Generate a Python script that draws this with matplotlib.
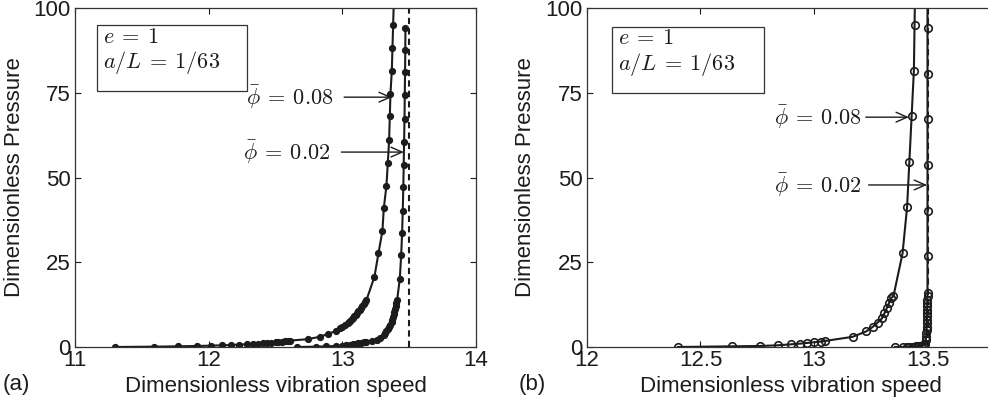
import matplotlib
matplotlib.use('Agg')
import matplotlib.pyplot as plt
from matplotlib.patches import Rectangle

plt.rcParams['font.family'] = ['Liberation Sans', 'DejaVu Sans']
plt.rcParams['mathtext.fontset'] = 'cm'

# (a) filled markers
a08_x = [11.30, 11.59, 11.77, 11.91, 12.02, 12.10, 12.17, 12.23, 12.29, 12.33, 12.37, 12.41,
         12.44, 12.47, 12.50, 12.52, 12.55, 12.57, 12.59, 12.61, 12.74, 12.83, 12.89, 12.95,
         12.98, 13.00, 13.02, 13.04, 13.05, 13.06, 13.07, 13.08, 13.09, 13.10, 13.11, 13.12,
         13.13, 13.14, 13.15, 13.16, 13.17, 13.18, 13.24, 13.27, 13.30, 13.31, 13.33, 13.34,
         13.35, 13.355, 13.36, 13.37, 13.375, 13.38, 13.385]
a08_p = [0.0, 0.1, 0.2, 0.3, 0.4, 0.5, 0.6, 0.7, 0.8, 0.9, 1.0, 1.1,
         1.2, 1.3, 1.4, 1.5, 1.6, 1.7, 1.8, 1.9, 2.3, 3.0, 3.8, 4.7,
         5.5, 6.0, 6.5, 7.0, 7.4, 7.8, 8.2, 8.6, 9.0, 9.5, 10.0, 10.5,
         11.0, 11.5, 12.0, 12.6, 13.2, 13.8, 20.7, 27.6, 34.3, 40.9, 47.6, 54.2,
         61.1, 68.0, 74.7, 81.5, 88.2, 95.1, 101.9]

a02_x = [12.66, 12.80, 12.88, 12.95, 13.00, 13.03, 13.06, 13.08, 13.10, 13.12, 13.14, 13.16,
         13.18, 13.22, 13.26, 13.28, 13.31, 13.32, 13.33, 13.34, 13.35, 13.36, 13.37, 13.375,
         13.38, 13.385, 13.39, 13.395, 13.40, 13.405, 13.41, 13.43, 13.44, 13.447, 13.452,
         13.456, 13.459, 13.462, 13.465, 13.467, 13.469, 13.471, 13.472]
a02_p = [0.0, 0.1, 0.2, 0.3, 0.4, 0.6, 0.7, 0.8, 0.9, 1.1, 1.2, 1.4,
         1.6, 1.8, 2.1, 2.6, 3.5, 4.0, 4.6, 5.2, 5.9, 6.6, 7.4, 8.1,
         8.8, 9.6, 10.4, 11.2, 12.0, 12.9, 13.9, 20.2, 27.1, 33.5, 40.2,
         47.1, 53.7, 60.6, 67.4, 74.2, 81.0, 87.7, 94.1]

# (b) open markers
b08_x = [12.40, 12.64, 12.76, 12.84, 12.90, 12.94, 12.97, 13.00, 13.03, 13.05, 13.17, 13.23,
         13.26, 13.28, 13.30, 13.31, 13.32, 13.33, 13.34, 13.35, 13.39, 13.41, 13.42, 13.43,
         13.44, 13.443, 13.446]
b08_p = [0.0, 0.2, 0.3, 0.5, 0.8, 1.0, 1.2, 1.4, 1.6, 1.8, 3.0, 4.6,
         6.0, 7.2, 8.5, 9.9, 11.4, 12.9, 14.4, 15.0, 27.6, 41.2, 54.5, 68.0,
         81.5, 95.1, 108.0]

b02_x = [13.357, 13.39, 13.41, 13.42, 13.43, 13.44, 13.45, 13.46, 13.47, 13.48, 13.49, 13.492,
         13.494, 13.495, 13.496, 13.496, 13.497, 13.497, 13.498, 13.498, 13.498, 13.499, 13.499,
         13.499, 13.5, 13.5, 13.5, 13.5, 13.5, 13.5, 13.5, 13.5, 13.5]
b02_p = [0.0, 0.0, 0.0, 0.0, 0.05, 0.1, 0.15, 0.2, 0.3, 0.5, 1.0, 2.0,
         3.0, 4.0, 5.0, 6.0, 7.0, 8.0, 9.0, 10.0, 11.0, 12.0, 13.0,
         14.0, 15.0, 16.0, 26.8, 40.2, 53.7, 67.2, 80.6, 94.1, 107.5]

ink = '#1c1c1c'
fs = 16

fig = plt.figure(figsize=(9.88, 4.05), dpi=100)
ax1 = fig.add_axes([0.0759, 0.1432, 0.4059, 0.837])
ax2 = fig.add_axes([0.5941, 0.1432, 0.4136, 0.837])

ax1.plot(a08_x, a08_p, '-o', color=ink, lw=1.5, ms=4.2, mfc=ink, mec=ink)
ax1.plot(a02_x, a02_p, '-o', color=ink, lw=1.5, ms=4.2, mfc=ink, mec=ink)
ax1.axvline(13.5, color=ink, lw=1.5, ls=(0, (3, 2)))

ax2.axvline(13.5, color=ink, lw=1.5, ls=(0, (3, 2)))
ax2.plot(b08_x, b08_p, '-o', color=ink, lw=1.5, ms=5.4, mfc='none', mec=ink, mew=1.2)
ax2.plot(b02_x, b02_p, '-o', color=ink, lw=1.5, ms=5.4, mfc='none', mec=ink, mew=1.2)

ax1.set_xlim(11, 14)
ax1.set_xticks([11, 12, 13, 14], ['11', '12', '13', '14'])
ax2.set_xlim(12, 13.8)
ax2.set_xticks([12, 12.5, 13, 13.5], ['12', '12.5', '13', '13.5'])

for ax in (ax1, ax2):
    ax.set_ylim(0, 100)
    ax.set_yticks([0, 25, 50, 75, 100])
    ax.tick_params(direction='in', top=True, right=True, length=4, width=0.8,
                   labelsize=fs, colors=ink, pad=3)
    ax.tick_params(axis='x', pad=2)
    for s in ax.spines.values():
        s.set_color('#333333')
        s.set_linewidth(0.9)
    ax.set_xlabel('Dimensionless vibration speed', fontsize=fs, color=ink)
    ax.set_ylabel('Dimensionless Pressure', fontsize=fs, color=ink)
    ax.xaxis.set_label_coords(0.5, -0.085)
    ax.yaxis.set_label_coords(-0.125, 0.5)

# parameter boxes
ax1.add_patch(Rectangle((0.055, 0.755), 0.374, 0.195, transform=ax1.transAxes,
                        fill=False, ec='#333333', lw=0.9))
ax1.text(0.07, 0.914, r'$e\:=\:1$', transform=ax1.transAxes, fontsize=fs, va='center', color=ink)
ax1.text(0.07, 0.838, r'$a/L\:=\:1/63$', transform=ax1.transAxes, fontsize=fs, va='center', color=ink)

ax2.add_patch(Rectangle((0.061, 0.749), 0.372, 0.195, transform=ax2.transAxes,
                        fill=False, ec='#333333', lw=0.9))
ax2.text(0.076, 0.909, r'$e\:=\:1$', transform=ax2.transAxes, fontsize=fs, va='center', color=ink)
ax2.text(0.076, 0.832, r'$a/L\:=\:1/63$', transform=ax2.transAxes, fontsize=fs, va='center', color=ink)

arrow = dict(arrowstyle='->,head_length=0.5,head_width=0.22', color=ink, lw=1.0, shrinkB=0)
ax1.annotate(r'$\bar{\phi}\:=\:0.08$', xy=(13.37, 73.7), xytext=(12.93, 73.7), fontsize=fs,
             ha='right', va='center', color=ink, arrowprops=dict(arrow, shrinkA=6))
ax1.annotate(r'$\bar{\phi}\:=\:0.02$', xy=(13.46, 57.5), xytext=(12.91, 57.5), fontsize=fs,
             ha='right', va='center', color=ink, arrowprops=dict(arrow, shrinkA=6))
ax2.annotate(r'$\bar{\phi}\:=\:0.08$', xy=(13.418, 67.8), xytext=(13.21, 67.8), fontsize=fs,
             ha='right', va='center', color=ink, arrowprops=dict(arrow, shrinkA=1))
ax2.annotate(r'$\bar{\phi}\:=\:0.02$', xy=(13.498, 47.8), xytext=(13.21, 47.8), fontsize=fs,
             ha='right', va='center', color=ink, arrowprops=dict(arrow, shrinkA=3))

fig.text(0.003, 0.05, '(a)', fontsize=fs, va='center', color=ink)
fig.text(0.525, 0.05, '(b)', fontsize=fs, va='center', color=ink)

fig.savefig('out.png', dpi=100)
